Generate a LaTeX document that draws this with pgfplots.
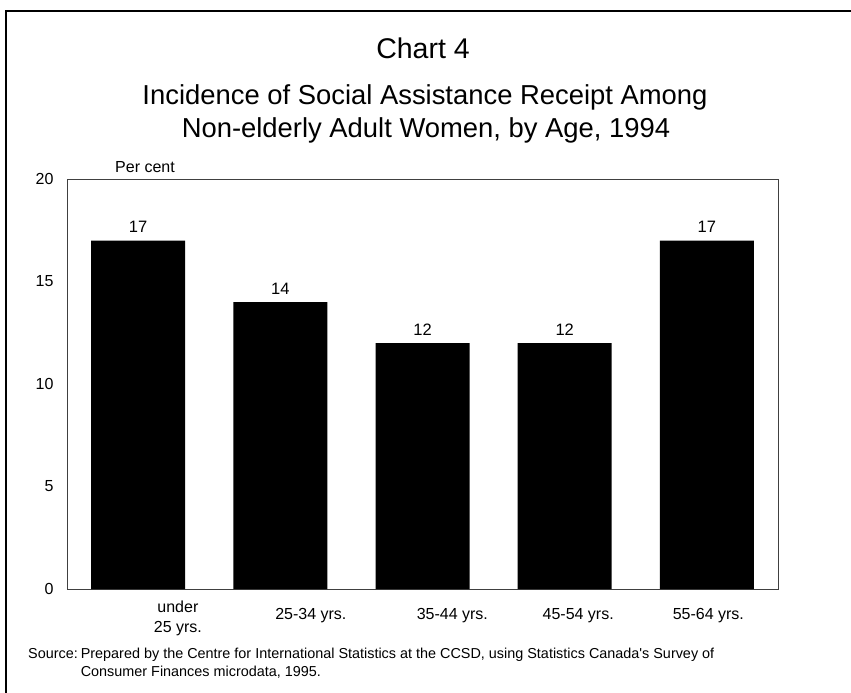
\documentclass[border=0pt]{standalone}
\usepackage{pgfplots}
\pgfplotsset{compat=1.18}
\usepackage{fontspec}
\setmainfont{Liberation Sans}
\begin{document}
\begin{tikzpicture}[x=1pt,y=1pt]
\useasboundingbox (0,0) rectangle (851,-693);
\draw[line width=2.6pt] (6,-700) -- (6,-11) -- (860,-11);
\begin{axis}[
  at={(67pt,-589pt)}, anchor=south west,
  scale only axis, width=711pt, height=410pt,
  xmin=-0.5, xmax=4.5, ymin=0, ymax=20,
  ytick={0,5,10,15,20},
  xtick={0.28,1.215,2.21,3.095,4.01},
  xticklabels={under\\25 yrs.,\rule{0pt}{19pt}25-34 yrs.,\rule{0pt}{19pt}35-44 yrs.,\rule{0pt}{19pt}45-54 yrs.,\rule{0pt}{19pt}55-64 yrs.},
  xticklabel style={align=center, font=\fontsize{16}{20}\selectfont, yshift=-8pt},
  yticklabel style={font=\fontsize{16}{18}\selectfont, xshift=-10pt},
  /pgf/number format/assume math mode=true,
  major tick length=0pt,
  axis line style={draw=black!75, line width=0.9pt},
  ybar, bar width=94pt,
  nodes near coords,
  every node near coord/.append style={font=\fontsize{16.5}{18}\selectfont, yshift=4pt},
  clip=false,
]
\addplot[fill=black, draw=none] coordinates {(0,17) (1,14) (2,12) (3,12) (4,17)};
\end{axis}
\node[font=\fontsize{28.5}{30}\selectfont, anchor=base] at (423,-59) {Chart 4};
\node[font=\fontsize{27.4}{30}\selectfont, anchor=base] at (425,-104) {Incidence of Social Assistance Receipt Among};
\node[font=\fontsize{27.4}{30}\selectfont, anchor=base] at (426,-137) {Non-elderly Adult Women, by Age, 1994};
\node[font=\fontsize{16}{18}\selectfont] at (145,-167) {Per cent};
\node[font=\fontsize{14.4}{18}\selectfont, anchor=north west, inner sep=0pt] at (28,-646) {\begin{tabular}{@{}l@{\hspace{3pt}}l@{}}Source: & Prepared by the Centre for International Statistics at the CCSD, using Statistics Canada\textquotesingle s Survey of\\ & Consumer Finances microdata, 1995.\end{tabular}};
\end{tikzpicture}
\end{document}
